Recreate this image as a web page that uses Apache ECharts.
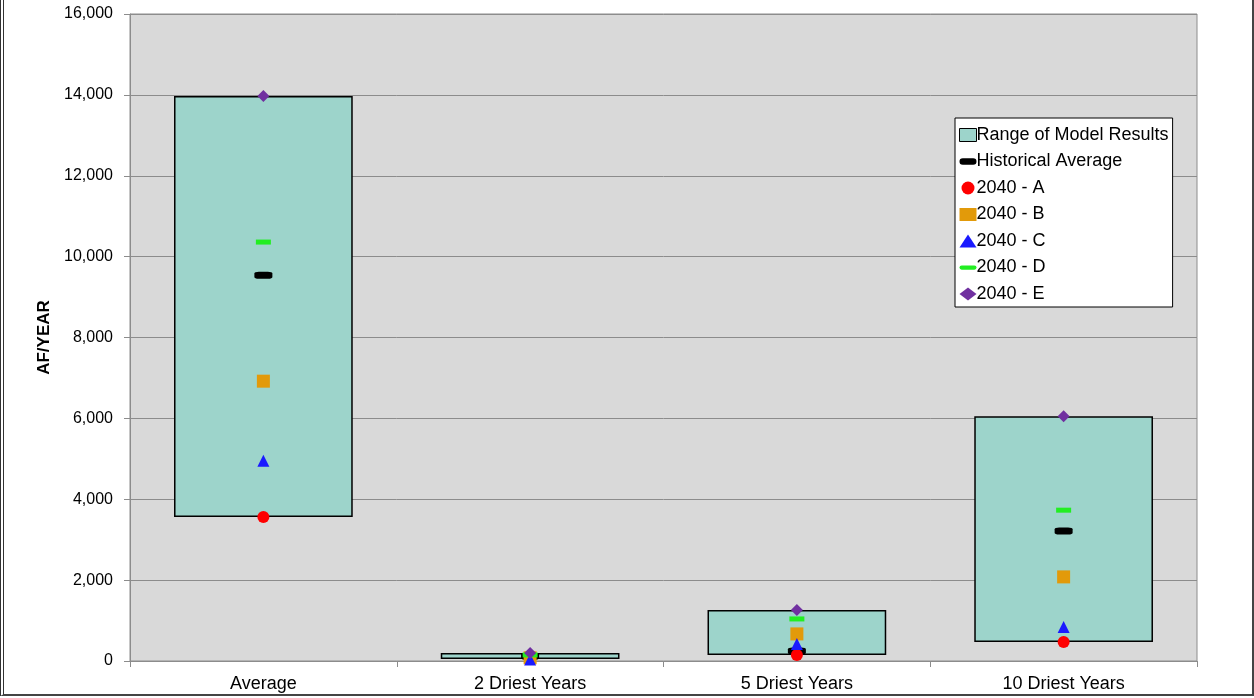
<!DOCTYPE html>
<html>
<head>
<meta charset="utf-8">
<script src="https://cdn.jsdelivr.net/npm/echarts@6/dist/echarts.min.js"></script>
<style>
html,body{margin:0;padding:0;background:#fff;}
#frame{position:absolute;left:0;top:0;width:1248px;height:694px;border-left:4px double #333;border-right:2px solid #444;border-bottom:2px solid #444;}
#chart{position:absolute;left:0;top:0;width:1254px;height:698px;}
</style>
</head>
<body>
<div id="chart"></div>
<div id="frame"></div>
<script>
const categories = ['Average', '2 Driest Years', '5 Driest Years', '10 Driest Years'];
const rangeLow  = [3560, 50, 150, 470];
const rangeHigh = [13970, 200, 1260, 6050];
const historical = [9540, 120, 250, 3215];
const s2040A = [3560, 50, 150, 470];
const s2040B = [6920, 80, 670, 2080];
const s2040C = [4950, 40, 420, 840];
const s2040D = [10360, 150, 1040, 3730];
const s2040E = [13970, 200, 1260, 6050];

const rangeSpan = rangeHigh.map((h, i) => h - rangeLow[i]);

const chart = echarts.init(document.getElementById('chart'), null, {renderer: 'canvas'});
const font = 'Liberation Sans, Arial, sans-serif';

const pillIcon = 'path://M3.5,0 H14.5 A3.5,3.5 0 0 1 14.5,7 H3.5 A3.5,3.5 0 0 1 3.5,0 Z';
const barIcon = 'path://M1,0 H13 A1,1 0 0 1 13,4 H1 A1,1 0 0 1 1,0 Z';

const option = {
  animation: false,
  backgroundColor: '#ffffff',
  textStyle: {fontFamily: font},
  grid: {left: 130, right: 57, top: 14, bottom: 37, show: true, backgroundColor: '#d9d9d9', borderColor: '#8c8c8c', borderWidth: 1},
  legend: {
    orient: 'vertical',
    left: 955, top: 118,
    backgroundColor: '#ffffff',
    borderColor: '#000', borderWidth: 1, borderRadius: 0,
    padding: [8, 4, 4, 4],
    itemGap: 8.5,
    itemWidth: 17, itemHeight: 13,
    textStyle: {fontSize: 18, color: '#000', fontFamily: font, padding: [0,0,0,-5]},
    data: [
      {name: 'Range of Model Results', icon: 'rect', itemStyle: {color: '#9dd4cb', borderColor: '#000', borderWidth: 1}},
      {name: 'Historical Average', icon: pillIcon},
      {name: '2040 - A'},
      {name: '2040 - B'},
      {name: '2040 - C'},
      {name: '2040 - D', icon: barIcon},
      {name: '2040 - E'}
    ]
  },
  xAxis: {
    type: 'category',
    data: categories,
    boundaryGap: true,
    axisLine: {lineStyle: {color: '#8c8c8c', width: 1}},
    axisTick: {show: true, length: 6, lineStyle: {color: '#8c8c8c'}},
    axisLabel: {color: '#000', fontSize: 18, margin: 14, fontFamily: font}
  },
  yAxis: {
    type: 'value',
    min: 0, max: 16000, interval: 2000,
    name: 'AF/YEAR',
    nameLocation: 'middle',
    nameGap: 76,
    nameTextStyle: {fontWeight: 'bold', fontSize: 17, color: '#000', fontFamily: font},
    axisLine: {show: true, lineStyle: {color: '#8c8c8c'}},
    axisTick: {show: true, length: 6, lineStyle: {color: '#8c8c8c'}},
    axisLabel: {color: '#000', fontSize: 16, margin: 17, fontFamily: font,
      formatter: v => v.toLocaleString('en-US')},
    splitLine: {lineStyle: {color: '#8c8c8c', width: 1}}
  },
  series: [
    {name: 'base', type: 'bar', stack: 'r', data: rangeLow, barWidth: '67%',
      itemStyle: {color: 'rgba(0,0,0,0)'}, silent: true},
    {name: 'Range of Model Results', type: 'bar', stack: 'r', data: rangeSpan, barWidth: '67%',
      itemStyle: {color: '#9dd4cb', borderColor: '#000', borderWidth: 1.5}},
    {name: 'Historical Average', type: 'scatter', data: historical, symbol: 'roundRect', symbolSize: [18, 7],
      itemStyle: {color: '#000', opacity: 1}},
    {name: '2040 - A', type: 'scatter', data: s2040A, symbol: 'circle', symbolSize: 12, itemStyle: {color: '#ff0000', opacity: 1}},
    {name: '2040 - B', type: 'scatter', data: s2040B, symbol: 'rect', symbolSize: 13, itemStyle: {color: '#e29a0a', opacity: 1}},
    {name: '2040 - C', type: 'scatter', data: s2040C, symbol: 'triangle', symbolSize: 12, itemStyle: {color: '#1a1aff', opacity: 1}},
    {name: '2040 - D', type: 'scatter', data: s2040D, symbol: 'rect', symbolSize: [15, 5], itemStyle: {color: '#22ee22', opacity: 1}},
    {name: '2040 - E', type: 'scatter', data: s2040E, symbol: 'diamond', symbolSize: 12, itemStyle: {color: '#7030a0', opacity: 1}}
  ]
};
chart.setOption(option);
</script>
</body>
</html>
